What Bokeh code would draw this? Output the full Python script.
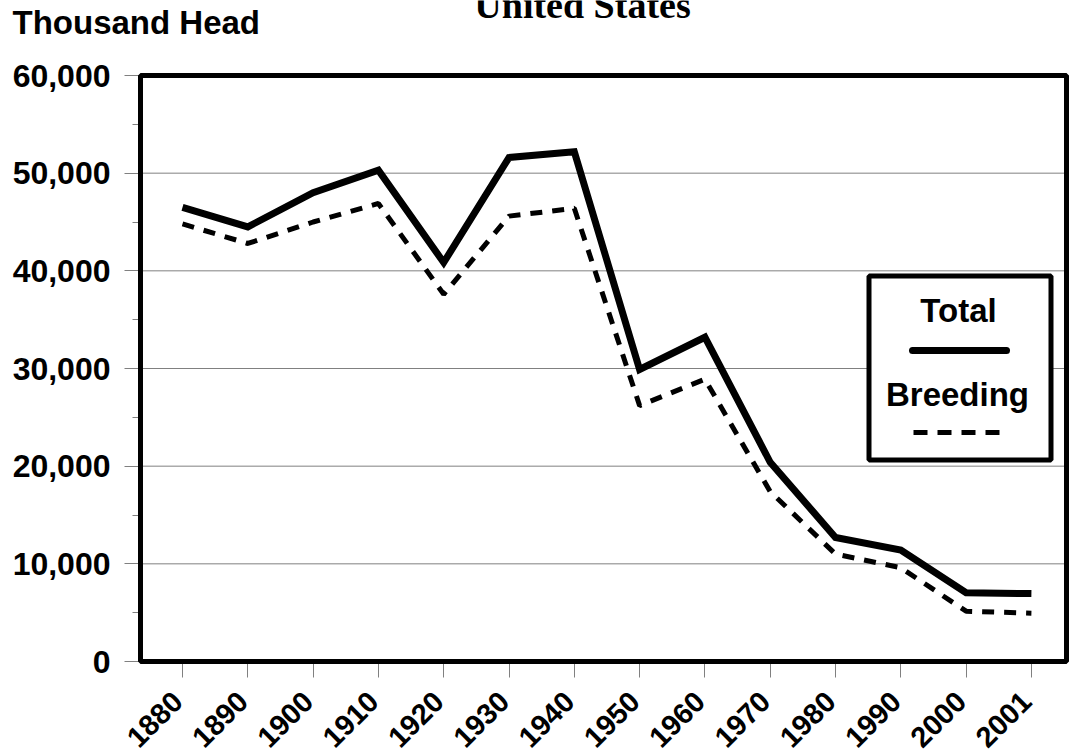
from bokeh.plotting import figure
from bokeh.models import (Range1d, FixedTicker, Label, BoxAnnotation, Arrow,
                          NumeralTickFormatter, LinearAxis)
from bokeh.embed import file_html
from bokeh.resources import INLINE
import math

# ---- data ----
years = ["1880", "1890", "1900", "1910", "1920", "1930", "1940",
         "1950", "1960", "1970", "1980", "1990", "2000", "2001"]
total = [46500, 44500, 48000, 50300, 40850, 51600, 52200,
         29900, 33200, 20400, 12700, 11400, 7050, 6950]
breeding = [44800, 42800, 45000, 46900, 37600, 45600, 46400,
            26200, 28900, 17400, 11000, 9600, 5150, 4950]
y_ticks = [0, 10000, 20000, 30000, 40000, 50000, 60000]
y_minor = [5000, 15000, 25000, 35000, 45000, 55000]

xs = list(range(len(years)))

# ---- layout (canvas pixels) ----
W, H = 1070, 756
BL, BR, BT, BB = 140, 1066, 75, 661           # chart box edges
X0, DX = 182.0, 65.3                          # first category px, spacing
YMAX = 60000
LABEL_SHIFT = 5.0                             # x labels sit a little left of ticks

def px2x(px):
    return (px - X0) / DX

def py2y(py):
    return (BB - py) / (BB - BT) * YMAX

p = figure(width=W, height=H, output_backend="svg", toolbar_location=None,
           title=None,
           x_range=Range1d(px2x(0), px2x(W)), y_range=Range1d(py2y(H), py2y(0)),
           min_border=0)
p.background_fill_color = "white"
p.border_fill_color = "white"
p.outline_line_color = None
p.xgrid.visible = False
p.ygrid.visible = False

FONT = "Liberation Sans"
FS = "32px"

# gridlines restricted to the chart box
p.segment(x0=px2x(BL), x1=px2x(BR), y0=y_ticks, y1=y_ticks,
          line_color="#808080", line_width=1)

# y axis at the left edge of the box
ya = p.yaxis[0]
ya.fixed_location = px2x(BL)
ya.ticker = FixedTicker(ticks=y_ticks, minor_ticks=y_minor)
ya.formatter = NumeralTickFormatter(format="0,0")
ya.axis_line_color = None
ya.major_tick_line_color = "#808080"
ya.minor_tick_line_color = "#808080"
ya.major_tick_in = 0
ya.major_tick_out = 16
ya.minor_tick_in = 0
ya.minor_tick_out = 8
ya.major_label_standoff = 14
ya.major_label_text_font = FONT
ya.major_label_text_font_style = "bold"
ya.major_label_text_font_size = FS
ya.major_label_text_color = "black"

# x axis (tick marks) at the bottom edge of the box
xa = p.xaxis[0]
xa.fixed_location = 0
xa.ticker = FixedTicker(ticks=xs)
xa.axis_line_color = None
xa.major_tick_line_color = "#808080"
xa.minor_tick_line_color = None
xa.major_tick_in = 0
xa.major_tick_out = 16
xa.major_label_text_color = None

# x axis (labels), on a range shifted by a few pixels
d = LABEL_SHIFT / DX
p.extra_x_ranges = {"lab": Range1d(px2x(0) + d, px2x(W) + d)}
xl = LinearAxis(x_range_name="lab", fixed_location=0,
                ticker=FixedTicker(ticks=xs),
                major_label_overrides={i: y for i, y in zip(xs, years)})
xl.axis_line_color = None
xl.major_tick_line_color = None
xl.minor_tick_line_color = None
xl.major_tick_in = 0
xl.major_tick_out = 16
xl.major_label_standoff = 19
xl.major_label_orientation = math.pi / 4
xl.major_label_text_font = FONT
xl.major_label_text_font_style = "bold"
xl.major_label_text_font_size = "29px"
xl.major_label_text_color = "black"
p.add_layout(xl, "below")

# series
p.line(xs, total, line_color="black", line_width=7, line_join="miter")
p.line(xs, breeding, line_color="black", line_width=5, line_dash="12 10")

# chart box outline
p.add_layout(BoxAnnotation(left=px2x(BL), right=px2x(BR), top=YMAX, bottom=0,
                           fill_alpha=0, line_color="black", line_alpha=1,
                           line_width=5, level="annotation"))

# ---- legend (custom: label above sample line) ----
p.add_layout(BoxAnnotation(left=px2x(868.5), right=px2x(1050.5),
                           top=py2y(275.5), bottom=py2y(459.5),
                           fill_color="white", fill_alpha=1,
                           line_color="black", line_alpha=1, line_width=5,
                           level="annotation"))
p.add_layout(Arrow(x_start=px2x(912), x_end=px2x(1006), y_start=py2y(350), y_end=py2y(350),
                   start=None, end=None, line_color="black", line_width=7,
                   line_cap="round"))
p.add_layout(Arrow(x_start=px2x(913), x_end=px2x(1000), y_start=py2y(432), y_end=py2y(432),
                   start=None, end=None, line_color="black", line_width=5,
                   line_dash="14 10"))
p.add_layout(Label(x=px2x(958), y=py2y(310), text="Total", text_align="center",
                   text_baseline="middle", text_font=FONT, text_font_style="bold",
                   text_font_size="33px", text_color="black"))
p.add_layout(Label(x=px2x(957), y=py2y(394), text="Breeding", text_align="center",
                   text_baseline="middle", text_font=FONT, text_font_style="bold",
                   text_font_size="33px", text_color="black"))

# ---- titles ----
p.add_layout(Label(x=px2x(582), y=py2y(4), text="United States",
                   text_align="center", text_baseline="middle",
                   text_font="Liberation Serif", text_font_style="bold",
                   text_font_size="38px", text_color="black"))
p.add_layout(Label(x=px2x(12), y=py2y(21.5), text="Thousand  Head",
                   text_align="left", text_baseline="middle",
                   text_font=FONT, text_font_style="bold",
                   text_font_size="33px", text_color="black"))

open("out.html", "w").write(file_html(p, INLINE))
